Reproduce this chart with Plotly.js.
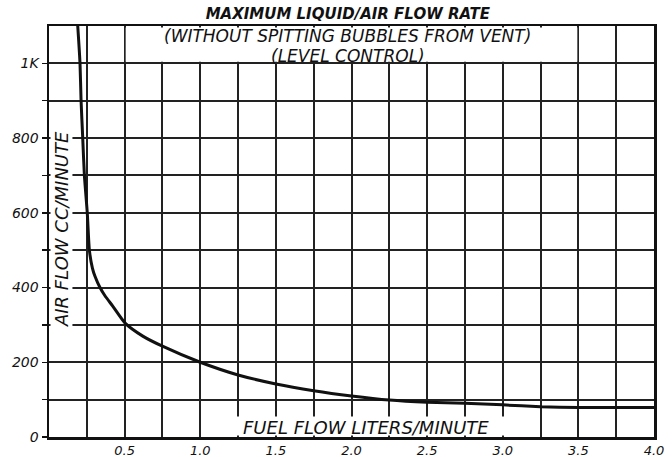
<!DOCTYPE html>
<html>
<head>
<meta charset="utf-8">
<script src="https://cdn.plot.ly/plotly-3.0.1.min.js"></script>
<style>html,body{margin:0;padding:0;background:#fff;}#chart{width:672px;height:457px;}</style>
</head>
<body>
<div id="chart"></div>
<script>
// Curve (fuel flow L/min vs max air flow cc/min)
const fuelFlow = [0.19, 0.205, 0.212, 0.223, 0.234, 0.253, 0.267, 0.287, 0.304, 0.337, 0.37, 0.42, 0.505, 0.62, 0.75, 1.0, 1.25, 1.5, 1.75, 2.0, 2.25, 2.5, 2.75, 3.0, 3.25, 3.5, 3.75, 4.0];
const airFlow  = [1100, 1000, 900, 800, 700, 600, 500, 452, 430, 400, 378, 351, 304, 270, 243, 200, 166, 142, 124, 110, 99, 93, 90, 86, 81, 79, 79, 79];

const xTickVals = [0, 0.25, 0.5, 0.75, 1.0, 1.25, 1.5, 1.75, 2.0, 2.25, 2.5, 2.75, 3.0, 3.25, 3.5, 3.75, 4.0];
const xTickText = ["", "", "0.5", "", "1.0", "", "1.5", "", "2.0", "", "2.5", "", "3.0", "", "3.5", "", "4.0"];
const yTickVals = [0, 100, 200, 300, 400, 500, 600, 700, 800, 900, 1000];
const yTickText = ["0", "", "200", "", "400", "", "600", "", "800", "", "1K"];

const chartTitle = "MAXIMUM LIQUID/AIR FLOW RATE";
const subtitle1 = "(WITHOUT SPITTING BUBBLES FROM VENT)";
const subtitle2 = "(LEVEL CONTROL)";
const xTitle = "FUEL FLOW LITERS/MINUTE";
const yTitle = "AIR FLOW CC/MINUTE";

const FONT = "DejaVu Sans, Liberation Sans, sans-serif";
const txt = (s) => "<i>" + s + "</i>";

const trace = {
  x: fuelFlow, y: airFlow, type: "scatter", mode: "lines",
  line: {color: "#111", width: 3, shape: "spline", smoothing: 0.6}, hoverinfo: "skip", showlegend: false
};

const axisCommon = {
  showline: true, mirror: true, linecolor: "#111", linewidth: 2.5,
  showgrid: true, gridcolor: "#222", gridwidth: 2,
  zeroline: false, tickcolor: "#111", tickwidth: 1.5,
  tickmode: "array"
};

const layout = {
  width: 672, height: 457,
  margin: {l: 49, r: 18, t: 26, b: 20},
  paper_bgcolor: "#fff", plot_bgcolor: "#fff",
  title: {text: "<b><i>" + chartTitle + "</i></b>", font: {family: FONT, size: 15, color: "#111"},
          xref: "paper", x: 0.494, xanchor: "center", yref: "container", y: 1 - 14/457, yanchor: "middle"},
  xaxis: Object.assign({}, axisCommon, {range: [0, 4], ticks: "", tickvals: xTickVals,
          ticktext: xTickText.map(t => t ? txt(t) : ""), tickfont: {family: FONT, size: 13, color: "#111"}}),
  yaxis: Object.assign({}, axisCommon, {range: [0, 1100], ticks: "outside", ticklen: 5, tickvals: yTickVals,
          ticktext: yTickText.map(t => t ? txt(t) : ""), tickfont: {family: FONT, size: 14, color: "#111"}}),
  shapes: [
    {type: "rect", xref: "x", yref: "y", x0: 0.507, x1: 3.493, y0: 1004, y1: 1096, fillcolor: "#fff", line: {width: 0}, layer: "above"},
    {type: "rect", xref: "x", yref: "y", x0: 1.02, x1: 3.23, y0: 4, y1: 55, fillcolor: "#fff", line: {width: 0}, layer: "above"},
    {type: "rect", xref: "x", yref: "y", x0: 0.01, x1: 0.155, y0: 262, y1: 868, fillcolor: "#fff", line: {width: 0}, layer: "above"}
  ],
  annotations: [
    {text: txt(subtitle1), xref: "paper", yref: "paper", x: (347 - 49)/605, y: (437 - 36)/411, xanchor: "center", yanchor: "middle", showarrow: false, font: {family: FONT, size: 17, color: "#111"}},
    {text: txt(subtitle2), xref: "paper", yref: "paper", x: (348 - 49)/605, y: (437 - 56)/411, xanchor: "center", yanchor: "middle", showarrow: false, font: {family: FONT, size: 17, color: "#111"}},
    {text: txt(xTitle), xref: "paper", yref: "paper", x: (366 - 49)/605, y: (437 - 427)/411, xanchor: "center", yanchor: "middle", showarrow: false, font: {family: FONT, size: 18, color: "#111"}},
    {text: txt(yTitle), xref: "paper", yref: "paper", x: (62 - 49)/605, y: (437 - 229)/411, xanchor: "center", yanchor: "middle", textangle: -90, showarrow: false, font: {family: FONT, size: 18, color: "#111"}}
  ]
};

Plotly.newPlot("chart", [trace], layout, {staticPlot: true, displayModeBar: false});
</script>
</body>
</html>
